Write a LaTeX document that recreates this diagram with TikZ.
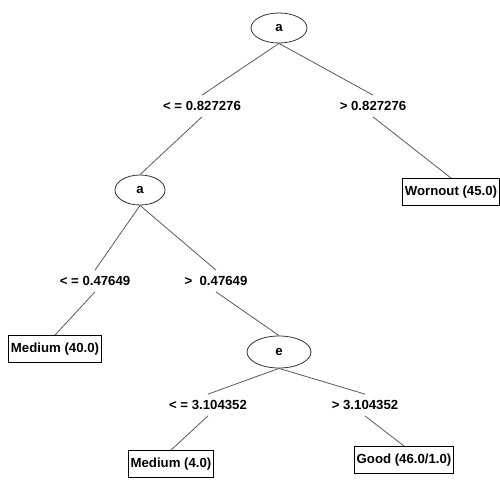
\documentclass[tikz,border=0pt]{standalone}
\usepackage{fontspec}
\setmainfont{Liberation Sans}
\usetikzlibrary{shapes.geometric}
\begin{document}
\begin{tikzpicture}[x=1pt,y=-1pt,
  every node/.style={font=\fontsize{13.2}{15}\selectfont\bfseries},
  attr/.style={draw=black!80,line width=0.8pt,ellipse,inner sep=0pt},
  leaf/.style={draw=black,line width=0.9pt,rectangle,inner xsep=2.5pt,minimum height=27pt},
  cond/.style={inner xsep=2pt,inner ysep=6pt},
  branch/.style={draw=black!65,line width=0.8pt}]
\useasboundingbox (0,0) rectangle (500,479);
% tree nodes
\node[attr,minimum width=56pt,minimum height=30pt] (r) at (279,28) {a};
\node[cond] (c1) at (202,106) {< = 0.827276};
\node[cond] (c2) at (373,106) {> 0.827276};
\node[leaf] (w) at (451,192) {Wornout (45.0)};
\node[attr,minimum width=50pt,minimum height=30pt] (a2) at (140,190) {a};
\node[cond] (c3) at (95,281) {< = 0.47649};
\node[cond] (c4) at (216,281) {>\ \ 0.47649};
\node[leaf] (m1) at (55,349) {Medium (40.0)};
\node[attr,minimum width=64pt,minimum height=32pt] (e) at (279,352) {e};
\node[cond] (c5) at (208,405) {< = 3.104352};
\node[cond] (c6) at (365,405) {> 3.104352};
\node[leaf] (m2) at (171,464) {Medium (4.0)};
\node[leaf] (g) at (404,460) {Good (46.0/1.0)};
% branches
\draw[branch] (r.south) -- (c1.north);
\draw[branch] (r.south) -- (c2.north);
\draw[branch] (c1.south) -- (a2.north);
\draw[branch] (c2.south) -- (w.north);
\draw[branch] (a2.south) -- (c3.north);
\draw[branch] (a2.south) -- (c4.north);
\draw[branch] (c3.south) -- (m1.north);
\draw[branch] (c4.south) -- (e.north);
\draw[branch] (e.south) -- (c5.north);
\draw[branch] (e.south) -- (c6.north);
\draw[branch] (c5.south) -- (m2.north);
\draw[branch] (c6.south) -- (g.north);
\end{tikzpicture}
\end{document}
